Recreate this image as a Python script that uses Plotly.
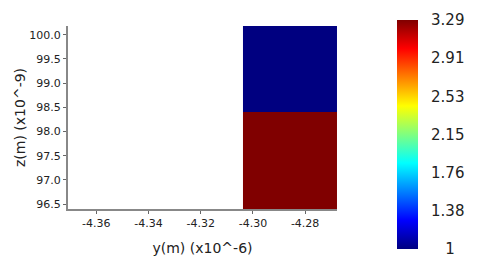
import plotly.graph_objects as go

# data
x_edges = [-4.3038, -4.2678]          # y(m) x10^-6, cell edges
z_edges = [96.40, 98.405, 100.18]     # z(m) x10^-9, cell edges
values = [[3.29], [1.0]]              # field value per cell
x_ticks = [-4.36, -4.34, -4.32, -4.30, -4.28]
y_ticks = [96.5, 97.0, 97.5, 98.0, 98.5, 99.0, 99.5, 100.0]
cb_ticks = [1, 1.3817, 1.7633, 2.145, 2.5267, 2.9083, 3.29]
cb_text = ["1", "1.38", "1.76", "2.15", "2.53", "2.91", "3.29"]

jet = [[0, "rgb(0,0,128)"], [0.125, "rgb(0,0,255)"], [0.375, "rgb(0,255,255)"],
       [0.625, "rgb(255,255,0)"], [0.875, "rgb(255,0,0)"], [1, "rgb(128,0,0)"]]

NB = "\u00a0"
fig = go.Figure(go.Heatmap(
    x=x_edges, y=z_edges, z=values, zmin=1, zmax=3.29, colorscale=jet,
    colorbar=dict(
        thickness=21, thicknessmode="pixels", len=229, lenmode="pixels",
        x=(397 - 68) / 269, xanchor="left", y=(209 - 134.5) / 183, yanchor="middle",
        xpad=0, ypad=0,
        outlinewidth=0, ticks="", tickvals=cb_ticks,
        ticktext=[(NB * 5 if t == "1" else NB * 2) + t for t in cb_text],
        tickfont=dict(family="DejaVu Sans", size=15, color="#222"),
    ),
))

axis_common = dict(showgrid=False, zeroline=False, showline=True, linecolor="#888",
                   linewidth=2, ticks="outside", ticklen=3, tickcolor="#666",
                   tickfont=dict(family="DejaVu Sans", size=11, color="#222"),
                   mirror=False)

fig.update_xaxes(range=[-4.3708, -4.2678], tickvals=x_ticks,
                 ticktext=["%.2f" % v for v in x_ticks],
                 title=dict(text="y(m) (x10^-6)", font=dict(family="DejaVu Sans", size=14, color="#222"),
                            standoff=14),
                 **axis_common)
fig.update_yaxes(range=[96.40, 100.18], tickvals=y_ticks,
                 ticktext=["%.1f" % v for v in y_ticks],
                 title=dict(text="z(m) (x10^-9)", font=dict(family="DejaVu Sans", size=14, color="#222"),
                            standoff=0),
                 **axis_common)

fig.update_layout(width=479, height=279,
                  margin=dict(l=68, r=142, t=26, b=70, autoexpand=False),
                  plot_bgcolor="white", paper_bgcolor="white", showlegend=False)

fig.write_html("out.html")
